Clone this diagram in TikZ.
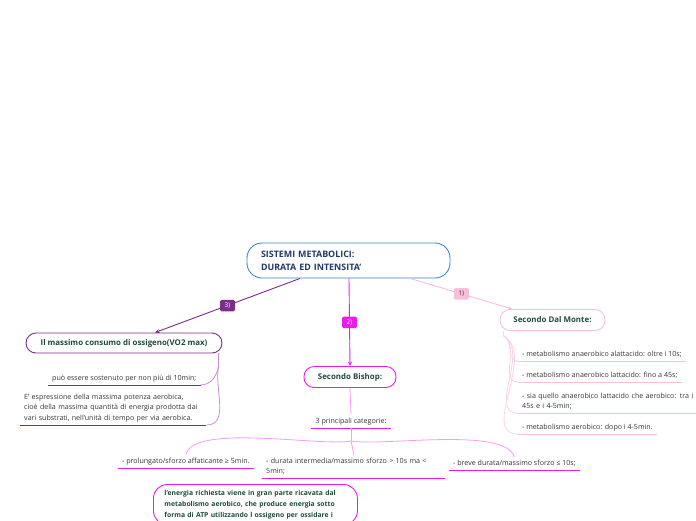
\documentclass[tikz,border=0pt]{standalone}
\usepackage{fontspec}
\setmainfont{Open Sans}
\usetikzlibrary{arrows.meta,positioning,calc}

\definecolor{mapblue}{HTML}{3C86CC}
\definecolor{mapnavy}{HTML}{1F3A66}
\definecolor{mapgreen}{HTML}{1E4B3C}
\definecolor{mapgray}{HTML}{333333}
\definecolor{mappurple}{HTML}{7B2D8B}
\definecolor{mappurplelt}{HTML}{C58FD0}
\definecolor{mapmagenta}{HTML}{E81EE8}
\definecolor{mapmagentalt}{HTML}{F59CF2}
\definecolor{mappink}{HTML}{F8BFDC}
\definecolor{mappinklt}{HTML}{FBD3E8}

\tikzset{
  topic/.style={draw=#1, line width=0.9pt, rounded corners=10pt, fill=white,
    minimum height=21pt, text=mapgreen,
    font=\fontsize{7.9}{10}\selectfont\bfseries},
  leaf/.style={inner xsep=4pt, inner ysep=3pt, text=mapgray, align=left,
    font=\fontsize{7.1}{10.2}\selectfont},
  numtag/.style={fill=#1, rounded corners=1.5pt, inner sep=2pt,
    minimum width=15pt, minimum height=11.5pt, text=white,
    font=\fontsize{6.5}{7}\selectfont},
  link/.style={draw=#1, line width=0.9pt, -{Stealth[length=4.5pt,width=4pt]}},
}

\begin{document}
\begin{tikzpicture}[x=1pt,y=-1pt]
\useasboundingbox (0,0) rectangle (696,520);

% central topic
\node (main) at (348.5,260.5) [draw=mapblue, line width=0.9pt, rounded corners=15pt,
  minimum width=203pt, minimum height=35pt, text width=175pt, align=left,
  text=mapnavy, font=\fontsize{8.9}{13}\selectfont\bfseries]
  {SISTEMI METABOLICI:\\DURATA ED INTENSITA'};

% main branches
\node (vo2) at (124,343) [topic=mappurple, minimum width=196pt, minimum height=20pt]
  {Il massimo consumo di ossigeno(VO2 max)};
\node (bishop) at (350,377) [topic=mapmagenta, minimum width=92pt] {Secondo Bishop:};
\node (dalmonte) at (552.5,320) [topic=mappink, minimum width=105pt] {Secondo Dal Monte:};

\coordinate (s3) at ($(main.south)+(-48.5,0)$);
\coordinate (s2) at ($(main.south)+(0.5,0)$);
\coordinate (s1) at ($(main.south)+(61.5,0)$);
\draw[link=mappurple] (s3) -- node[numtag=mappurple] {3)} ($(vo2.north)+(31,0)$);
\draw[link=mapmagenta] (s2) -- node[numtag=mapmagenta] {2)} (bishop.north);
\draw[link=mappink] (s1) -- node[numtag=mappink, text=mapgray] {1)} ($(dalmonte.north west)+(13,0)$);

% VO2 max
\node (vo2a) [leaf, anchor=south west] at (48,385) {può essere sostenuto per non più di 10min;};
\node (vo2b) [leaf, anchor=south west, text width=178pt] at (20,425)
  {E' espressione della massima potenza aerobica,\\cioè della massima quantità di energia prodotta dai\\vari substrati, nell'unità di tempo per via aerobica.};
\draw[mappurple, line width=0.9pt] (vo2a.south west) -- (vo2a.south east);
\draw[mappurple, line width=0.9pt] (vo2b.south west) -- (vo2b.south east);
\coordinate (vo2t) at ($(vo2.south east)+(-4,13)$);
\draw[mappurplelt, line width=0.8pt] ($(vo2.south east)+(-4,0)$) -- (vo2t);
\draw[mappurplelt, line width=0.8pt] (vo2t) to[out=-100, in=0] (vo2a.south east);
\draw[mappurplelt, line width=0.8pt] (vo2t) to[out=-100, in=0] (vo2b.south east);

% Bishop
\node (cat) [leaf, anchor=south] at (351,428) {3 principali categorie:};
\draw[mapmagenta, line width=1pt] (cat.south west) -- (cat.south east);
\draw[mapmagentalt, line width=0.8pt] (bishop.south) -- (cat.north);
\node (b1) [leaf, anchor=south west] at (118,468) {- prolungato/sforzo affaticante ≥ 5min.};
\node (b2) [leaf, anchor=south west, text width=175pt] at (262,478)
  {- durata intermedia/massimo sforzo > 10s ma <\\5min;};
\node (b3) [leaf, anchor=south west] at (449,470) {- breve durata/massimo sforzo ≤ 10s;};
\foreach \n in {b1,b2,b3}
  \draw[mapmagenta, line width=1pt] (\n.south west) -- (\n.south east);
\coordinate (catt) at ($(cat.south)+(0,13)$);
\draw[mapmagentalt, line width=0.8pt] (cat.south) -- (catt);
\draw[mapmagentalt, line width=0.8pt] (catt) to[out=190, in=75, looseness=0.5] (b1.north);
\draw[mapmagentalt, line width=0.8pt] (catt) to[out=-80, in=95] (b2.north);
\draw[mapmagentalt, line width=0.8pt] (catt) to[out=-10, in=105, looseness=0.5] (b3.north);

\node (energy) [anchor=north west, draw=mapmagenta, line width=0.9pt, rounded corners=14pt,
  minimum width=204pt, text width=182pt, inner xsep=11pt, inner ysep=6pt, align=left,
  text=mapgreen, font=\fontsize{6.8}{10.8}\selectfont\bfseries] at (153,484)
  {l'energia richiesta viene in gran parte ricavata dal\\metabolismo aerobico, che produce energia sotto\\forma di ATP utilizzando l ossigeno per ossidare i};

% Dal Monte
\node (d1) [leaf, anchor=south west] at (518,361) {- metabolismo anaerobico alattacido: oltre i 10s;};
\node (d2) [leaf, anchor=south west] at (518,382) {- metabolismo anaerobico lattacido: fino a 45s;};
\node (d3) [leaf, anchor=south west, text width=178pt] at (518,413)
  {- sia quello anaerobico lattacido che aerobico: tra i\\45s e i 4-5min;};
\node (d4) [leaf, anchor=south west] at (518,434) {- metabolismo aerobico: dopo i 4-5min.};
\coordinate (dt) at ($(dalmonte.south west)+(4,5)$);
\draw[mappinklt, line width=0.8pt] ($(dalmonte.south west)+(4,0)$) -- (dt);
\foreach \n in {d1,d2,d3,d4} {
  \draw[mappink, line width=0.9pt] (\n.south west) -- (\n.south east);
  \draw[mappinklt, line width=0.8pt] (dt) to[out=-30, in=180] (\n.south west);
}
\end{tikzpicture}
\end{document}
